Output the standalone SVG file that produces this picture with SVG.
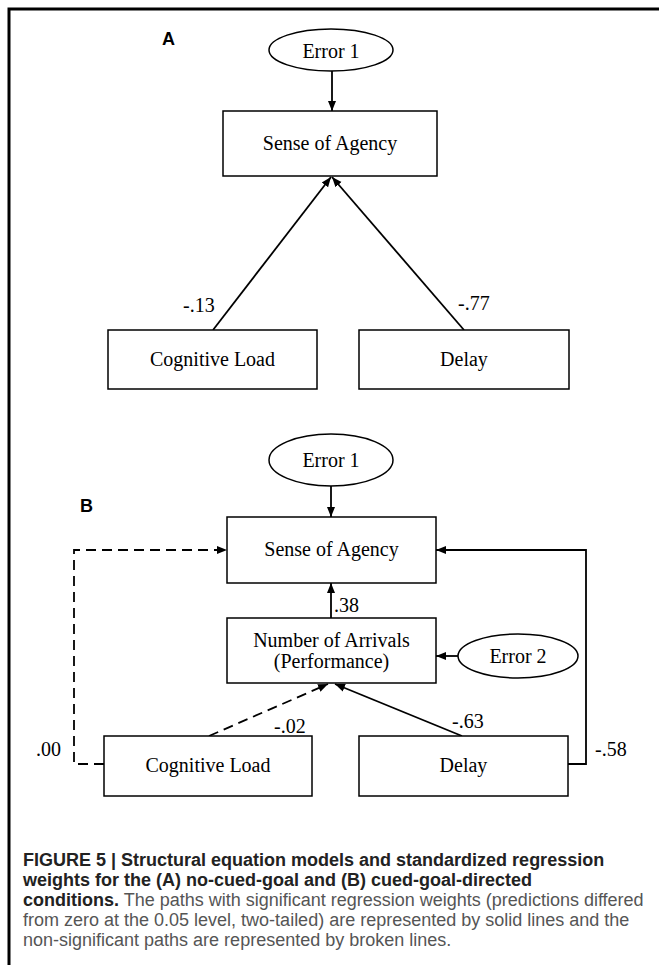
<svg xmlns="http://www.w3.org/2000/svg" width="659" height="965" viewBox="0 0 659 965">
<defs>
<style>
.box{fill:#fff;stroke:#000;stroke-width:1.5}
.ell{fill:#fff;stroke:#000;stroke-width:1.5}
.nt{font-family:"Liberation Serif","Times New Roman",serif;font-size:20px;fill:#000;text-anchor:middle}
.lb{font-family:"Liberation Serif","Times New Roman",serif;font-size:20px;fill:#000}
.pl{font-family:"Liberation Sans",Arial,sans-serif;font-size:18px;font-weight:bold;fill:#000}
.cn{fill:none;stroke:#000;stroke-width:1.8}
.dash{stroke-dasharray:10,6}
.cap{font-family:"Liberation Sans",Arial,sans-serif;font-size:18px}
.cb{font-weight:bold;fill:#222}
.cr{fill:#555}
</style>
<marker id="ah" viewBox="0 0 10 10" refX="10" refY="5" markerWidth="10" markerHeight="10" markerUnits="userSpaceOnUse" orient="auto">
<path d="M0,1 L10,5 L0,9 z" fill="#000" stroke="none"/>
</marker>
</defs>
<rect width="659" height="965" fill="#fff"/>
<path d="M9,965 V9 H659" fill="none" stroke="#000" stroke-width="3"/>

<text class="pl" x="162" y="45">A</text>
<text class="pl" x="80" y="512">B</text>

<g id="connectors">
<path class="cn" d="M332,71 V111" marker-end="url(#ah)"/>
<path class="cn" d="M213,330 L331,177" marker-end="url(#ah)"/>
<path class="cn" d="M464,330 L332,177" marker-end="url(#ah)"/>
<path class="cn" d="M331,486 V517" marker-end="url(#ah)"/>
<path class="cn" d="M331,618 V583" marker-end="url(#ah)"/>
<path class="cn dash" d="M209,736 L328,684" marker-end="url(#ah)"/>
<path class="cn" d="M462,736 L335,684" marker-end="url(#ah)"/>
<path class="cn" d="M458,656 H436" marker-end="url(#ah)"/>
<path class="cn dash" d="M104,764 H74 V550 H227" marker-end="url(#ah)"/>
<path class="cn" d="M568,764 H586 V550 H436" marker-end="url(#ah)"/>
</g>

<g id="a-error1"><ellipse class="ell" cx="331" cy="50" rx="62" ry="21"/><text class="nt" x="331" y="58">Error 1</text></g>
<g id="a-agency"><rect class="box" x="223" y="111" width="214" height="65"/><text class="nt" x="330" y="150">Sense of Agency</text></g>
<g id="a-cogload"><rect class="box" x="108" y="330" width="209" height="59"/><text class="nt" x="212.5" y="366">Cognitive Load</text></g>
<g id="a-delay"><rect class="box" x="359" y="330" width="210" height="59"/><text class="nt" x="464" y="366">Delay</text></g>
<g id="a-labels"><text class="lb" x="183" y="312">-.13</text><text class="lb" x="458" y="310">-.77</text></g>

<g id="b-error1"><ellipse class="ell" cx="331" cy="460" rx="62" ry="26"/><text class="nt" x="331" y="467">Error 1</text></g>
<g id="b-agency"><rect class="box" x="227" y="517" width="209" height="66"/><text class="nt" x="331.5" y="556">Sense of Agency</text></g>
<g id="b-arrivals"><rect class="box" x="227" y="618" width="209" height="65"/><text class="nt" x="331.5" y="647">Number of Arrivals</text><text class="nt" x="331.5" y="668">(Performance)</text></g>
<g id="b-error2"><ellipse class="ell" cx="518" cy="656" rx="60" ry="22"/><text class="nt" x="518" y="663">Error 2</text></g>
<g id="b-cogload"><rect class="box" x="104" y="736" width="208" height="60"/><text class="nt" x="208" y="772">Cognitive Load</text></g>
<g id="b-delay"><rect class="box" x="359" y="736" width="209" height="60"/><text class="nt" x="463.5" y="772">Delay</text></g>
<g id="b-labels">
<text class="lb" x="334" y="612">.38</text>
<text class="lb" x="274" y="733">-.02</text>
<text class="lb" x="452" y="728">-.63</text>
<text class="lb" x="36" y="756">.00</text>
<text class="lb" x="595" y="756">-.58</text>
</g>

<g id="caption" class="cap">
<text class="cb" x="23" y="866">FIGURE 5 | Structural equation models and standardized regression</text>
<text class="cb" x="23" y="886">weights for the (A) no-cued-goal and (B) cued-goal-directed</text>
<text x="23" y="906"><tspan class="cb">conditions.</tspan><tspan class="cr"> The paths with significant regression weights (predictions differed</tspan></text>
<text class="cr" x="23" y="926">from zero at the 0.05 level, two-tailed) are represented by solid lines and the</text>
<text class="cr" x="23" y="946">non-significant paths are represented by broken lines.</text>
</g>
</svg>
